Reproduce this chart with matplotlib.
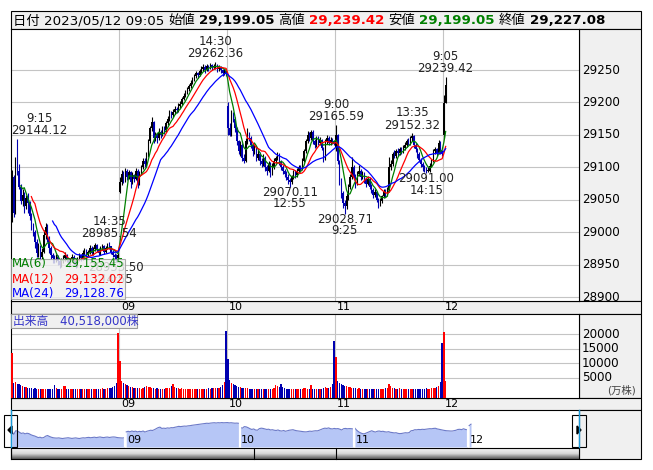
import numpy as np
import pandas as pd
import matplotlib
matplotlib.use("Agg")
import matplotlib.pyplot as plt
from matplotlib.patches import Rectangle, Polygon
from matplotlib.colors import LinearSegmentedColormap

plt.rcParams['font.family'] = ['DejaVu Sans', 'Noto Sans CJK JP']

# 5-minute bars, 2023/05/08 .. 2023/05/12 09:05 (61 bars per full day)
day_labels = ['08', '09', '10', '11', '12']
session_open = [29020, 29062, 29195, 29130, 29150]

close_08 = [29085, 29030, 29100, 29095, 29070, 29048, 29058, 29040, 29052, 29045,
            29025, 29010, 29000, 28985, 28968, 28975, 28962, 28970, 28995, 29008,
            28990, 28975, 28965, 28960, 28958, 28962, 28955, 28950, 28956, 28960,
            28965, 28958, 28952, 28957, 28962, 28955, 28950, 28958, 28964, 28960,
            28968, 28972, 28965, 28970, 28976, 28968, 28974, 28980, 28972, 28968,
            28975, 28978, 28970, 28976, 28980, 28978, 28970, 28965, 28962, 28960, 28965]
high_08 = [29096, 29088, 29116, 29144.12, 29105, 29074, 29066, 29062, 29058, 29060,
           29048, 29030, 29014, 29004, 28990, 28984, 28980, 28975, 29004, 29014,
           29012, 28994, 28978, 28968, 28964, 28966, 28965, 28958, 28960, 28964,
           28970, 28967, 28960, 28960, 28966, 28964, 28958, 28961, 28968, 28967,
           28972, 28976, 28974, 28973, 28980, 28978, 28977, 28983, 28982, 28975,
           28978, 28982, 28980, 28979, 28983, 28985.54, 28979, 28972, 28968, 28966, 28968]
low_08 = [29016, 29024, 29028, 29088, 29066, 29044, 29040, 29030, 29036, 29030,
          29018, 29004, 28994, 28976, 28962, 28962, 28957, 28958, 28968, 28990,
          28985, 28968, 28958, 28952, 28952, 28954, 28950, 28945, 28947, 28953,
          28956, 28954, 28947, 28949, 28954, 28950, 28945, 28947, 28955, 28956,
          28957, 28965, 28961, 28962, 28967, 28964, 28965, 28971, 28969, 28964,
          28965, 28972, 28967, 28968, 28974, 28974, 28966, 28961, 28957, 28953.50, 28958]
vol_08 = [13600, 3300, 3600, 2900, 3100, 2700, 2200, 2000, 1800, 1700,
          1500, 1500, 1400, 1500, 1400, 1300, 1300, 1400, 1300, 1200,
          1300, 1200, 1300, 1400, 2600, 1500, 1300, 1200, 1300, 2400,
          2200, 1400, 1300, 1200, 1200, 1300, 1100, 1200, 1300, 1200,
          1300, 1400, 1200, 1300, 1200, 1100, 1300, 1200, 1300, 1400,
          1300, 1500, 1400, 1300, 1600, 1500, 1700, 1900, 2400, 3300, 20300]

close_09 = [29078, 29090, 29080, 29095, 29085, 29092, 29078, 29088, 29082, 29095,
            29075, 29090, 29100, 29110, 29105, 29120, 29140, 29160, 29170, 29145,
            29150, 29145, 29155, 29150, 29160, 29158, 29168, 29175, 29185, 29180,
            29185, 29190, 29188, 29195, 29198, 29205, 29210, 29215, 29220, 29225,
            29230, 29235, 29240, 29245, 29242, 29248, 29252, 29255, 29250, 29256,
            29253, 29258, 29254, 29256, 29258, 29252, 29255, 29250, 29246, 29248, 29244]
high_09 = [29085, 29096, 29094, 29099, 29097, 29096, 29094, 29092, 29090, 29099,
           29097, 29094, 29104, 29114, 29114, 29124, 29144, 29164, 29178, 29172,
           29155, 29153, 29160, 29157, 29164, 29163, 29171, 29179, 29189, 29187,
           29190, 29194, 29193, 29199, 29202, 29209, 29214, 29219, 29224, 29229,
           29234, 29239, 29244, 29249, 29247, 29252, 29256, 29259, 29257, 29260,
           29258, 29261, 29259, 29260, 29262.36, 29259, 29258, 29256, 29252, 29251, 29249]
low_09 = [29060, 29072, 29076, 29078, 29080, 29082, 29068, 29075, 29078, 29080,
          29068, 29072, 29088, 29098, 29100, 29102, 29116, 29138, 29156, 29138,
          29140, 29138, 29142, 29145, 29148, 29152, 29155, 29165, 29172, 29176,
          29178, 29182, 29184, 29186, 29192, 29196, 29203, 29208, 29213, 29218,
          29223, 29228, 29233, 29238, 29238, 29240, 29245, 29249, 29246, 29248,
          29249, 29251, 29250, 29251, 29252, 29247, 29249, 29245, 29240, 29243, 29240]
vol_09 = [10800, 4100, 3200, 2800, 2600, 2200, 2000, 1800, 1700, 1600,
          1500, 1500, 1400, 1500, 1900, 2300, 2100, 1800, 1600, 1500,
          1400, 1500, 1300, 1400, 1300, 1400, 1500, 1600, 1700, 2400,
          3000, 2000, 1700, 1500, 1400, 1500, 1300, 1400, 1300, 1200,
          1300, 1200, 1300, 1400, 1300, 1200, 1300, 1400, 1300, 1400,
          1500, 1400, 1500, 1600, 1700, 1600, 1700, 2000, 2700, 3700, 21100]

close_10 = [29160, 29150, 29180, 29175, 29160, 29140, 29125, 29135, 29115, 29110,
            29140, 29150, 29145, 29135, 29125, 29130, 29115, 29120, 29110, 29105,
            29115, 29100, 29095, 29105, 29090, 29100, 29110, 29115, 29120, 29108,
            29100, 29095, 29090, 29085, 29080, 29078, 29085, 29092, 29088, 29095,
            29100, 29098, 29110, 29125, 29140, 29150, 29145, 29155, 29140, 29135,
            29145, 29138, 29142, 29130, 29115, 29140, 29145, 29138, 29142, 29140, 29136]
high_10 = [29200, 29168, 29188, 29186, 29178, 29162, 29142, 29140, 29137, 29120,
           29145, 29160, 29154, 29148, 29138, 29134, 29132, 29126, 29124, 29114,
           29120, 29118, 29104, 29110, 29108, 29106, 29114, 29118, 29124, 29122,
           29112, 29104, 29098, 29094, 29090, 29084, 29088, 29096, 29096, 29099,
           29104, 29104, 29114, 29128, 29144, 29156, 29154, 29158, 29157, 29144,
           29148, 29148, 29146, 29144, 29132, 29143, 29150, 29148, 29146, 29145, 29141]
low_10 = [29150, 29148, 29148, 29170, 29155, 29135, 29120, 29118, 29110, 29106,
          29108, 29136, 29140, 29130, 29118, 29120, 29110, 29112, 29104, 29100,
          29102, 29095, 29088, 29092, 29085, 29088, 29098, 29106, 29112, 29104,
          29096, 29090, 29085, 29080, 29075, 29070.11, 29074, 29082, 29084, 29085,
          29092, 29094, 29096, 29108, 29122, 29138, 29140, 29142, 29136, 29130,
          29132, 29134, 29135, 29126, 29108, 29112, 29136, 29134, 29135, 29136, 29134]
vol_10 = [11500, 4200, 3300, 3000, 2600, 2300, 2000, 1900, 1700, 1600,
          1600, 1500, 1400, 1400, 1300, 1400, 1300, 1200, 1400, 1300,
          1300, 1200, 1300, 1200, 1300, 1400, 1600, 2600, 2200, 1800,
          2800, 1800, 1500, 1400, 1300, 1400, 1300, 1200, 1300, 1200,
          1300, 1400, 1300, 1600, 1500, 1400, 1300, 2600, 1300, 1400,
          1300, 1200, 1300, 1400, 1600, 2000, 1700, 1500, 1900, 3000, 17700]

close_11 = [29150, 29110, 29080, 29060, 29045, 29040, 29055, 29070, 29085, 29100,
            29085, 29075, 29090, 29095, 29085, 29090, 29080, 29075, 29082, 29070,
            29065, 29058, 29062, 29050, 29045, 29048, 29055, 29062, 29058, 29065,
            29100, 29105, 29120, 29118, 29125, 29122, 29128, 29125, 29130, 29135,
            29140, 29138, 29145, 29148, 29135, 29128, 29120, 29112, 29105, 29100,
            29098, 29095, 29095, 29102, 29110, 29125, 29128, 29122, 29138, 29125, 29120]
high_11 = [29165.59, 29152, 29112, 29084, 29064, 29050, 29060, 29074, 29090, 29116,
           29104, 29090, 29094, 29104, 29098, 29094, 29093, 29084, 29086, 29085,
           29074, 29068, 29066, 29064, 29053, 29052, 29058, 29066, 29066, 29069,
           29116, 29112, 29124, 29126, 29128, 29129, 29132, 29131, 29134, 29139,
           29144, 29145, 29149, 29152.32, 29150, 29138, 29130, 29123, 29115, 29108,
           29104, 29101, 29100, 29106, 29113, 29128, 29132, 29130, 29142, 29140, 29127]
low_11 = [29125, 29105, 29072, 29052, 29038, 29028.71, 29035, 29050, 29066, 29082,
          29080, 29068, 29072, 29086, 29080, 29082, 29076, 29070, 29072, 29066,
          29060, 29052, 29054, 29046, 29037, 29040, 29045, 29052, 29054, 29055,
          29062, 29096, 29102, 29114, 29115, 29118, 29119, 29121, 29122, 29127,
          29132, 29134, 29135, 29140, 29130, 29124, 29115, 29108, 29100, 29094,
          29093, 29091.00, 29092, 29093, 29100, 29108, 29120, 29118, 29120, 29120, 29118]
vol_11 = [12300, 4100, 3300, 3000, 2700, 2400, 2200, 2000, 1800, 1700,
          1600, 1500, 1400, 1500, 1400, 1300, 1400, 1300, 1200, 1300,
          1200, 1300, 1200, 1300, 1200, 1300, 1400, 1300, 1500, 1700,
          3000, 2400, 1700, 1500, 1400, 1300, 1500, 1400, 1300, 1400,
          1300, 1200, 1300, 1400, 1300, 1200, 1300, 1400, 1300, 1400,
          1300, 1500, 1400, 1300, 1500, 1600, 1700, 2000, 2200, 3700, 17000]

close_12 = [29199.05, 29227.08]
high_12 = [29212, 29239.42]
low_12 = [29145, 29199.05]
vol_12 = [20800, 4000]

# labelled highs / lows: global bar index, price text, time text
peak_bars = [3, 55, 115, 183, 226, 245]
peak_prices = ['29144.12', '28985.54', '29262.36', '29165.59', '29152.32', '29239.42']
peak_times = ['9:15', '14:35', '14:30', '9:00', '13:35', '9:05']
trough_bars = [59, 157, 188, 234]
trough_prices = ['28953.50', '29070.11', '29028.71', '29091.00']
trough_times = ['14:55', '12:55', '9:25', '14:15']

price_ticks = [28900, 28950, 29000, 29050, 29100, 29150, 29200, 29250]
vol_ticks = [5000, 10000, 15000, 20000]
ma_windows = [6, 12, 24]
ma_colors = ['#008000', '#ff0000', '#0000ff']
ma_texts = ['29,155.45', '29,132.02', '29,128.76']

# ---- assemble ----
close = np.array(close_08 + close_09 + close_10 + close_11 + close_12, float)
high = np.array(high_08 + high_09 + high_10 + high_11 + high_12, float)
low = np.array(low_08 + low_09 + low_10 + low_11 + low_12, float)
vol = np.array(vol_08 + vol_09 + vol_10 + vol_11 + vol_12, float)
day_len = [len(close_08), len(close_09), len(close_10), len(close_11), len(close_12)]
day_start = np.cumsum([0] + day_len[:-1])
opens = np.r_[close[0], close[:-1]]
opens[day_start] = session_open
n = len(close)
x = np.arange(n)

# ---- layout in pixels ----
W, H = 653, 470
L, R, RR = 11, 579, 641
BW = 108 / 61
NBW = 114.3 / 61


def px_rect(x0, y0, x1, y1):
    return [x0 / W, 1 - y1 / H, (x1 - x0) / W, (y1 - y0) / H]


fig = plt.figure(figsize=(W / 100, H / 100), dpi=100)
bg = fig.add_axes([0, 0, 1, 1], zorder=0)
bg.set_xlim(0, W)
bg.set_ylim(H, 0)
bg.axis('off')
grey = '#f0f0f0'
for (x0, y0, x1, y1) in [(L, 11, RR, 29), (R, 29, RR, 301), (L, 301, RR, 314),
                         (R, 314, RR, 398), (L, 398, RR, 410), (R, 410, RR, 459)]:
    bg.add_patch(Rectangle((x0, y0), x1 - x0, y1 - y0, fc=grey, ec='black', lw=0.8))

# scrollbar
cm = LinearSegmentedColormap.from_list('sb', ['#f6f6f6', '#d8d8d8', '#5a5a5a'])
bg.imshow(np.linspace(0, 1, 32).reshape(-1, 1), cmap=cm, aspect='auto',
          extent=(L, R, 459, 448), origin='upper', zorder=1)
bg.add_patch(Rectangle((L, 448), R - L, 11, fill=False, ec='black', lw=0.8, zorder=2))
for xd in [254, 336]:
    bg.plot([xd, xd], [448, 459], color='black', lw=0.8, zorder=2)
bg.plot([L, L], [410, 459], color='black', lw=0.8)
bg.set_xlim(0, W)
bg.set_ylim(H, 0)

# header
r = fig.canvas.get_renderer()
hx = 13
for s, c, w in [('日付 2023/05/12 09:05', 'black', 'normal'), ('始値', 'black', 'normal'),
                ('29,199.05', 'black', 'bold'), ('高値', 'black', 'normal'),
                ('29,239.42', '#ff0000', 'bold'), ('安値', 'black', 'normal'),
                ('29,199.05', '#008000', 'bold'), ('終値', 'black', 'normal'),
                ('29,227.08', 'black', 'bold')]:
    t = bg.text(hx, 20.5, s, fontsize=9.6, color=c, fontweight=w, va='center', ha='left')
    hx = t.get_window_extent(renderer=r).x1 + 4

# ---- main price panel ----
ax = fig.add_axes(px_rect(L, 29, R, 301), zorder=2)
ax.set_xlim(-0.5, -0.5 + (R - L) / BW)
ax.set_ylim(29250 - (301 - 70) / 0.6486, 29250 + (70 - 29) / 0.6486)
ax.set_yticks(price_ticks)
ax.set_xticks(day_start[1:] - 0.5)
ax.grid(True, color='#c4c4c4', lw=0.8)
ax.tick_params(length=0, labelleft=False, labelbottom=False)
for sp in ax.spines.values():
    sp.set_linewidth(0.8)

up = close >= opens
ccol = np.where(up, '#000000', '#0000b0')
ax.vlines(x, np.minimum(low, np.minimum(opens, close)),
          np.maximum(high, np.maximum(opens, close)), colors=ccol, lw=0.8, zorder=3)
ax.bar(x, np.maximum(np.abs(close - opens), 0.8), bottom=np.minimum(opens, close),
       width=0.7, color=ccol, lw=0, zorder=3)
for wdw, mc in zip(ma_windows, ma_colors):
    ax.plot(x, pd.Series(close).rolling(wdw).mean(), color=mc, lw=0.9, zorder=4)


def mark(b, y, price_txt, time_txt, d1, d2):
    # keep the label pair inside the plot, as the original chart does
    t = ax.annotate(price_txt, (b, y), xytext=(0, d1 * 0.72), textcoords='offset points',
                    ha='center', va='center', fontsize=8.5, color='#222222', zorder=5)
    w = t.get_window_extent(renderer=r).width
    bx = ax.transData.transform((b, y))[0]
    cx = min(max(bx, L + w / 2), R - w / 2 - 1)
    dx = (cx - bx) * 0.72
    t.set_position((dx, d1 * 0.72))
    ax.annotate(time_txt, (b, y), xytext=(dx, d2 * 0.72), textcoords='offset points',
                ha='center', va='center', fontsize=8.5, color='#222222', zorder=5)


for b, p, tm in zip(peak_bars, peak_prices, peak_times):
    mark(b, high[b], p, tm, 8, 20.5)
for b, p, tm in zip(trough_bars, trough_prices, trough_times):
    mark(b, low[b], p, tm, -5.5, -17)

ytr = ax.get_yaxis_transform()
for p in price_ticks:
    ax.text((582 - L) / (R - L), p, str(p), transform=ytr, fontsize=8.6,
            va='center', ha='left', clip_on=False)

# ---- volume panel ----
vax = fig.add_axes(px_rect(L, 314, R, 398), zorder=2)
vax.set_xlim(ax.get_xlim())
vbottom = 5000 - 20 / 2.933 * 1000
vax.set_ylim(vbottom, 20000 + 20 / 2.933 * 1000)
vax.set_yticks(vol_ticks)
vax.set_xticks(day_start[1:] - 0.5)
vax.grid(True, color='#c4c4c4', lw=0.8)
vax.tick_params(length=0, labelleft=False, labelbottom=False)
for sp in vax.spines.values():
    sp.set_linewidth(0.8)
vcol = np.where(up, '#ff0000', '#0000b0')
vax.bar(x, vol - vbottom, bottom=vbottom, width=0.7, color=vcol, lw=0, zorder=3)
vtr = vax.get_yaxis_transform()
for v in vol_ticks:
    vax.text((582 - L) / (R - L), v, str(v), transform=vtr, fontsize=8.6,
             va='center', ha='left', clip_on=False)

# ---- navigator ----
nax = fig.add_axes(px_rect(L, 410, R, 447), zorder=2)
nax.set_xlim(-0.5, -0.5 + (R - L) / NBW)
nb = 28786
nax.set_ylim(nb, 29501)
nax.axis('off')
for k in range(len(day_len)):
    s = slice(day_start[k], day_start[k] + day_len[k])
    nax.fill_between(x[s], close[s], nb, color='#b6c6f6', lw=0)
    nax.plot(x[s], close[s], color='#6c7ac8', lw=0.8)
for k in range(1, len(day_len)):
    nax.vlines(day_start[k] - 0.5, nb, close[day_start[k] - 1] + 40, color='white', lw=1.6)
    nax.text(day_start[k] + 0.3, nb + 130, day_labels[k], fontsize=8, va='center', ha='left')

# ---- overlay items ----
top = fig.add_axes([0, 0, 1, 1], zorder=10)
top.set_xlim(0, W)
top.set_ylim(H, 0)
top.axis('off')
top.patch.set_alpha(0)

for k in range(1, len(day_len)):
    gx = L + day_start[k] * BW
    top.text(gx + 2, 307.5, day_labels[k], fontsize=8, va='center', ha='left')
    top.text(gx + 2, 404, day_labels[k], fontsize=8, va='center', ha='left')

top.add_patch(Rectangle((L, 259), 114, 40, fc='#f0f0f0', ec='#9a9a9a', lw=0.8, alpha=0.82))
for k, yy in enumerate([264, 279, 293]):
    top.text(12, yy, 'MA(%d)' % ma_windows[k], color=ma_colors[k], fontsize=8.5,
             va='center', ha='left')
    top.text(124, yy, ma_texts[k], color=ma_colors[k], fontsize=8.5, va='center', ha='right')

top.add_patch(Rectangle((L, 314), 126, 14, fc='#f0f0f0', ec='#9a9a9a', lw=0.8))
top.text(13, 321, '出来高\u300040,518,000株', color='#3434c8', fontsize=8.5,
         va='center', ha='left')
top.text(636, 390, '(万株)', fontsize=7.5, color='#444444', va='center', ha='right')

top.plot([L, L], [410, 447], color='#1a9ad8', lw=1)
top.plot([R, R], [410, 447], color='#1a9ad8', lw=1)
top.add_patch(Rectangle((4, 415), 13, 32, fill=False, ec='black', lw=0.8))
top.add_patch(Polygon([(8, 430), (12, 426), (12, 434)], color='black'))
top.add_patch(Rectangle((572, 415), 14, 32, fill=False, ec='black', lw=0.8))
top.add_patch(Polygon([(581, 430), (577, 426), (577, 434)], color='black'))

fig.savefig('out.png', dpi=100)
